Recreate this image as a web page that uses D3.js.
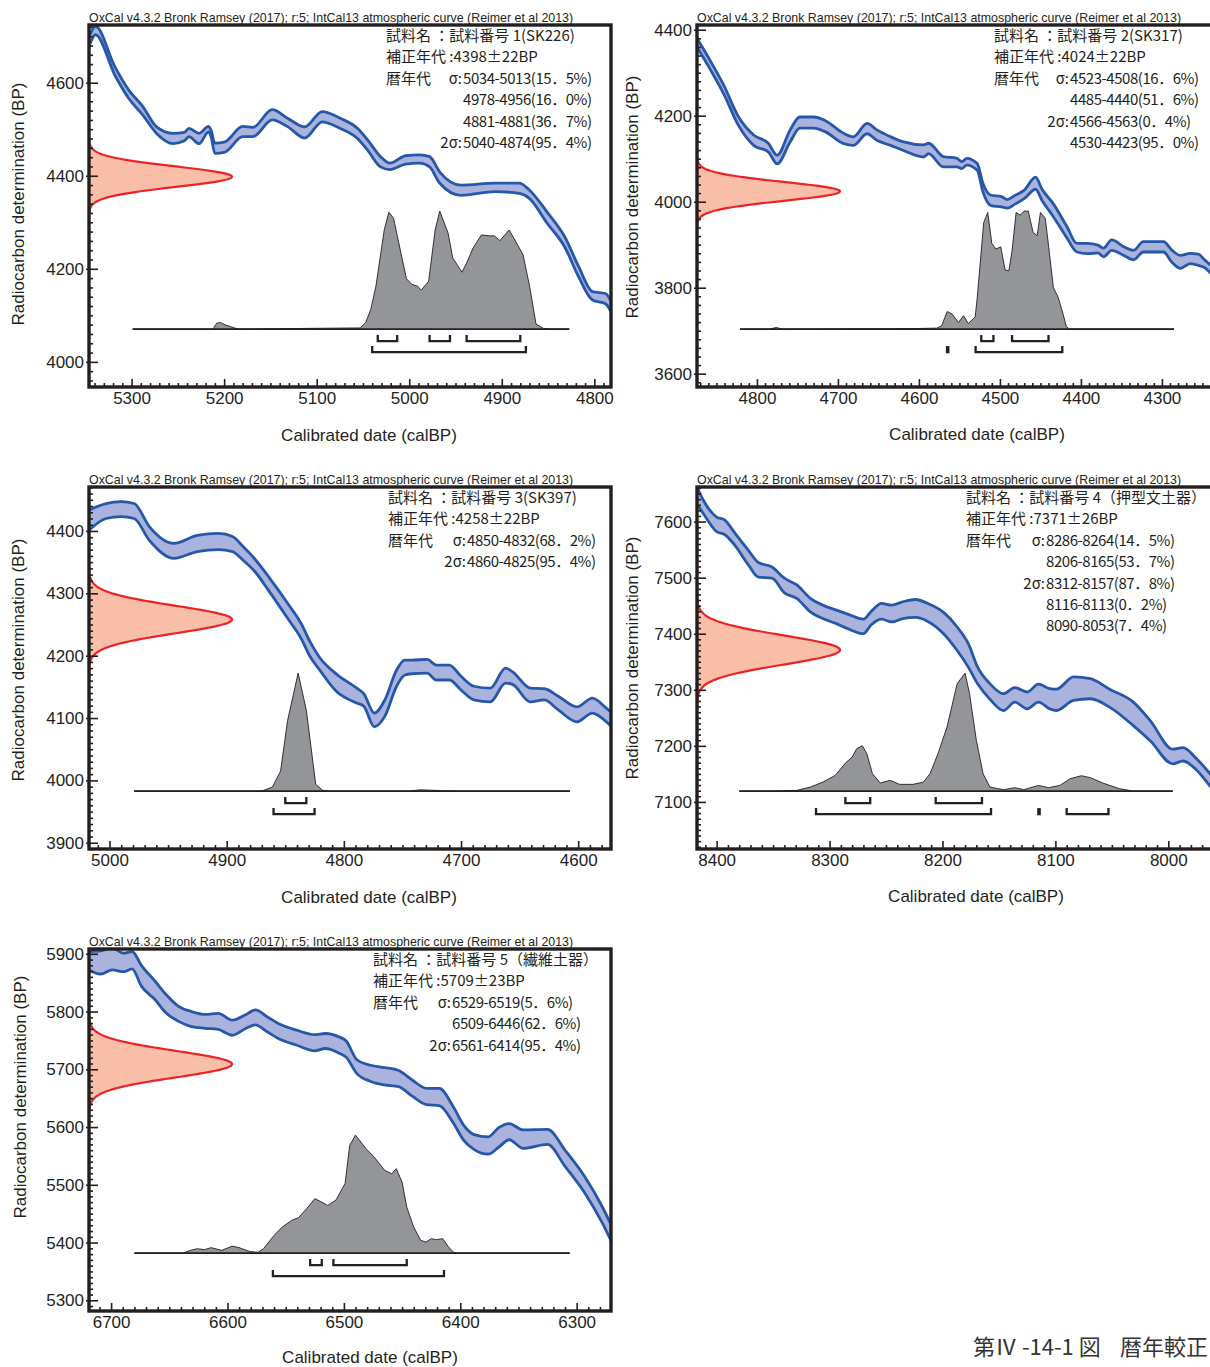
<!DOCTYPE html>
<html>
<head>
<meta charset="utf-8">
<script src="https://cdn.jsdelivr.net/npm/d3@7"></script>
<style>
  body { margin: 0; background: #fff; }
  svg { display: block; }
</style>
</head>
<body>
<svg id="chart" width="1210" height="1367"></svg>
<script>
// ---------- Sample 1 (SK226) ----------
// calibration curve: [calBP, BP, 1-sigma]
const curve1 = [[5345,4693,10],[5339,4712,9],[5318,4625,9],[5303,4575,9],[5288,4540,9],[5273,4498,7],[5255,4480,11],[5243,4484,9],[5238,4493,9],[5227,4480,11],[5217,4500,6],[5214,4490,7],[5210,4459,11],[5199,4462,11],[5180,4495,11],[5169,4494,10],[5148,4531,11],[5131,4514,9],[5113,4493,12],[5094,4527,11],[5075,4513,11],[5056,4491,11],[5045,4466,11],[5031,4430,11],[5021,4420,7],[5004,4434,9],[4989,4436,9],[4978,4430,11],[4967,4396,12],[4944,4369,11],[4907,4375,9],[4881,4373,11],[4870,4360,9],[4851,4310,12],[4832,4258,11],[4817,4194,11],[4802,4142,9],[4788,4136,11],[4781,4115,11]];
// calibrated probability: [calBP, relative %]
const post1 = [[5298,0],[5212,0],[5208,5],[5204,5.6],[5199,3.6],[5189,1],[5184,0],[5053,1],[5047,5.6],[5041.5,16.8],[5036,36.4],[5027,84],[5022,99],[5017,94],[5012,75.6],[5003,42.6],[4997,37.8],[4991,36.4],[4987,33],[4979,40.6],[4972,84],[4967,100],[4958,81.3],[4953,60.3],[4943,48.2],[4938,56],[4931,68.7],[4922,79.8],[4913,79],[4908,79],[4902,75],[4892,84],[4884,72.9],[4877,63],[4870,36.4],[4863,4.2],[4855,0.6],[4848,0],[4827,0]];
const span1 = [5299, 4827];
const date1 = [4398, 22];
const oneSigma1 = [[5034,5013],[4978,4956],[4938,4880]];
const twoSigma1 = [[5040,4874]];
const xTicks1 = [5300,5200,5100,5000,4900,4800];
const yTicks1 = [4000,4200,4400,4600];
const name1 = "試料番号 1(SK226)";
const rows1 = [["σ","5034-5013(15．5%)"],["","4978-4956(16．0%)"],["","4881-4881(36．7%)"],["2σ","5040-4874(95．4%)"]];

// ---------- Sample 2 (SK317) ----------
const curve2 = [[4874,4370,10],[4858,4319,10],[4841,4261,10],[4823,4188,10],[4804,4143,12],[4786,4126,10],[4775,4098,10],[4759,4153,14],[4747,4184,13],[4730,4184,13],[4716,4176,13],[4693,4147,12],[4681,4141,10],[4664,4170,12],[4652,4155,12],[4635,4141,10],[4619,4129,10],[4594,4118,14],[4588,4124,12],[4570,4093,12],[4553,4091,10],[4547,4085,8],[4541,4093,8],[4528,4081,8],[4521,4033,10],[4511,4003,12],[4498,4000,12],[4491,3995,10],[4481,4005,10],[4470,4017,10],[4456,4043,14],[4448,4016,13],[4434,3980,15],[4417,3928,13],[4405,3893,10],[4392,3891,12],[4379,3890,9],[4372,3882,10],[4362,3899,12],[4347,3885,10],[4335,3876,11],[4323,3895,12],[4298,3895,12],[4288,3874,14],[4277,3860,15],[4265,3868,12],[4255,3865,13],[4247,3855,9],[4238,3840,10],[4226,3817,12]];
const post2 = [[4821,0],[4784,0],[4776,1.4],[4769,0],[4607,0.4],[4578,0.8],[4572,2.8],[4565,14.9],[4559,12.7],[4551,5.6],[4545,11.3],[4539,4.7],[4530.5,10.4],[4528,26.8],[4520,90.3],[4515,98.8],[4510,72.5],[4505,67.8],[4499,69.7],[4493.5,50],[4489,49.4],[4485,66.4],[4480,98.8],[4475,96.6],[4470,100],[4465,100],[4459,81.9],[4454,79.1],[4450,98.8],[4444,94],[4439,64.9],[4434,35.3],[4428,26.8],[4422,12.7],[4418,2],[4414,0],[4285,0]];
const span2 = [4821, 4285];
const date2 = [4024, 22];
const oneSigma2 = [[4523,4508],[4485,4440]];
const twoSigma2 = [[4566,4563],[4530,4423]];
const xTicks2 = [4800,4700,4600,4500,4400,4300];
const yTicks2 = [3600,3800,4000,4200,4400];
const name2 = "試料番号 2(SK317)";
const rows2 = [["σ","4523-4508(16．6%)"],["","4485-4440(51．6%)"],["2σ","4566-4563(0．4%)"],["","4530-4423(95．0%)"]];

// ---------- Sample 3 (SK397) ----------
const curve3 = [[5017,4418,16],[5003,4432,12],[4990,4435,12],[4979,4432,12],[4966,4396,11],[4945,4368,12],[4925,4380,13],[4907,4383,13],[4895,4379,12],[4886,4364,11],[4876,4345,10],[4864,4315,11],[4848,4272,12],[4836,4238,12],[4829,4211,12],[4821,4188,10],[4806,4156,14],[4789,4136,12],[4783,4129,10],[4774,4097,11],[4765,4116,13],[4755,4164,13],[4748,4181,12],[4742,4182,11],[4729,4183,11],[4721,4173,12],[4710,4173,12],[4700,4156,11],[4689,4140,11],[4675,4137,11],[4662,4168,12],[4656,4164,10],[4641,4137,11],[4629,4138,9],[4617,4124,11],[4601,4106,12],[4588,4120,12],[4576,4105,11],[4569,4093,12]];
const post3 = [[4979,0],[4873,0],[4869,0.4],[4861,3.4],[4854,16.9],[4848,59.9],[4839,100],[4832,68.4],[4824,5.7],[4818,0.6],[4812,0],[4744,0],[4735,1.1],[4725,0.7],[4714,0.3],[4701,0],[4607,0]];
const span3 = [4979, 4607];
const date3 = [4258, 22];
const oneSigma3 = [[4850,4832]];
const twoSigma3 = [[4860,4825]];
const xTicks3 = [5000,4900,4800,4700,4600];
const yTicks3 = [3900,4000,4100,4200,4300,4400];
const name3 = "試料番号 3(SK397)";
const rows3 = [["σ","4850-4832(68．2%)"],["2σ","4860-4825(95．4%)"]];

// ---------- Sample 4 (押型文土器) ----------
const curve4 = [[8417,7645,15],[8412,7627,12],[8400,7595,13],[8393,7590,13],[8384,7569,11],[8372,7536,13],[8363,7514,13],[8351,7509,10],[8340,7486,13],[8329,7475,12],[8317,7451,12],[8306,7439,12],[8294,7430,12],[8284,7422,13],[8270,7413,13],[8263,7428,12],[8254,7440,14],[8245,7436,15],[8235,7442,15],[8224,7445,16],[8213,7438,16],[8199,7419,19],[8187,7391,21],[8177,7361,21],[8169,7326,15],[8158,7297,14],[8146,7278,15],[8136,7291,13],[8125,7281,15],[8115,7294,16],[8105,7284,18],[8099,7282,19],[8084,7302,21],[8069,7302,18],[8052,7285,16],[8031,7257,21],[8016,7227,18],[7996,7181,13],[7987,7185,12],[7975,7167,10],[7963,7139,11],[7954,7116,11]];
const post4 = [[8380,0],[8353,0],[8329,0.6],[8317,3.4],[8306,7.6],[8295,13.3],[8286,23.7],[8280,28.8],[8276,35.9],[8271,38.5],[8267,31.7],[8262,14.7],[8255,6.8],[8246.5,9.1],[8238,5.7],[8226,5.7],[8217,7.6],[8211,14.7],[8204,31.7],[8196,54.2],[8187,91],[8180,100],[8176,82.5],[8170,43],[8164,14.7],[8158,3.4],[8146,1.2],[8136,2.9],[8128,1.2],[8115,4.8],[8106,2.9],[8096,4.8],[8087,10.5],[8077,13],[8069,11.4],[8058,6.8],[8043,2],[8031,0],[7996,0]];
const span4 = [8380, 7996];
const date4 = [7371, 26];
const oneSigma4 = [[8286,8264],[8206,8165]];
const twoSigma4 = [[8312,8157],[8116,8113],[8090,8053]];
const xTicks4 = [8400,8300,8200,8100,8000];
const yTicks4 = [7100,7200,7300,7400,7500,7600];
const name4 = "試料番号 4（押型文土器）";
const rows4 = [["σ","8286-8264(14．5%)"],["","8206-8165(53．7%)"],["2σ","8312-8157(87．8%)"],["","8116-8113(0．2%)"],["","8090-8053(7．4%)"]];

// ---------- Sample 5 (繊維土器) ----------
const curve5 = [[6719,5888,16],[6709,5885,20],[6699,5891,19],[6689,5885,16],[6682,5889,15],[6674,5862,18],[6662,5836,16],[6653,5814,16],[6642,5796,13],[6631,5787,13],[6619,5783,12],[6608,5783,14],[6596,5772,13],[6584,5783,12],[6576,5790,13],[6566,5778,13],[6554,5764,13],[6541,5755,13],[6525,5746,14],[6516,5749,13],[6504,5742,14],[6498,5735,14],[6489,5705,12],[6477,5693,14],[6465,5688,15],[6453,5684,14],[6441,5667,14],[6429,5653,14],[6418,5652,15],[6406,5621,14],[6397,5590,13],[6388,5574,13],[6376,5568,15],[6367,5582,17],[6358,5592,14],[6346,5579,16],[6325,5583,13],[6310,5546,14],[6293,5500,14],[6278,5448,14],[6267,5402,14]];
const post5 = [[6680,0],[6638,0],[6632,2.3],[6626,3.7],[6620,2.9],[6614,4.6],[6605,2.3],[6596,5.9],[6590,4.6],[6581,1.4],[6574,0.6],[6569,3.7],[6560,15],[6553,22],[6545,27.7],[6539,30],[6532,37.6],[6525,46.1],[6519,43.2],[6514,40.4],[6507,44.7],[6499,58.8],[6495,91.3],[6490,100],[6481,88.5],[6474,81.4],[6465,70.1],[6459,67.3],[6455,71.5],[6450,60.2],[6446,39],[6440,22],[6434,10.8],[6429.5,9.3],[6425,12.2],[6420.5,11.4],[6415,12.2],[6410,5.1],[6406,0.8],[6403,0],[6306,0]];
const span5 = [6680, 6306];
const date5 = [5709, 23];
const oneSigma5 = [[6529,6519],[6509,6446]];
const twoSigma5 = [[6561,6414]];
const xTicks5 = [6700,6600,6500,6400,6300];
const yTicks5 = [5300,5400,5500,5600,5700,5800,5900];
const name5 = "試料番号 5（繊維土器）";
const rows5 = [["σ","6529-6519(5．6%)"],["","6509-6446(62．6%)"],["2σ","6561-6414(95．4%)"]];

const header = "OxCal v4.3.2 Bronk Ramsey (2017); r:5; IntCal13 atmospheric curve (Reimer et al 2013)";
const xTitle = "Calibrated date (calBP)";
const yTitle = "Radiocarbon determination (BP)";
const figNumber = "第Ⅳ -14-1 図";
const figCaption = "暦年較正";

// ---------- layout ----------
const W = 522, H = 362;
const panels = [
  {left: 89, top: 25, xDom: [5346, 4782], yDom: [3946, 4724], xStep: 10, yStep: 20,
   curve: curve1, post: post1, span: span1, date: date1, s1: oneSigma1, s2: twoSigma1,
   xTicks: xTicks1, yTicks: yTicks1, name: name1, rows: rows1,
   textX: 386, valueX: 463, yTitlePos: [18, 204], xTitlePos: [369, 441]},
  {left: 697, top: 25, xDom: [4874, 4229.5], yDom: [3569, 4411], xStep: 10, yStep: 20,
   curve: curve2, post: post2, span: span2, date: date2, s1: oneSigma2, s2: twoSigma2,
   xTicks: xTicks2, yTicks: yTicks2, name: name2, rows: rows2,
   textX: 994, valueX: 1070, yTitlePos: [632, 197], xTitlePos: [977, 440]},
  {left: 89, top: 487, xDom: [5017.5, 4572], yDom: [3890, 4470.5], xStep: 10, yStep: 10,
   curve: curve3, post: post3, span: span3, date: date3, s1: oneSigma3, s2: twoSigma3,
   xTicks: xTicks3, yTicks: yTicks3, name: name3, rows: rows3,
   textX: 388, valueX: 467, yTitlePos: [18, 660], xTitlePos: [369, 903]},
  {left: 697, top: 487, xDom: [8417.4, 7955.1], yDom: [7016, 7661.7], xStep: 10, yStep: 10,
   curve: curve4, post: post4, span: span4, date: date4, s1: oneSigma4, s2: twoSigma4,
   xTicks: xTicks4, yTicks: yTicks4, name: name4, rows: rows4,
   textX: 966, valueX: 1046, yTitlePos: [632, 658], xTitlePos: [976, 902]},
  {left: 89, top: 949, xDom: [6719, 6270.5], yDom: [5281.5, 5908.3], xStep: 10, yStep: 10,
   curve: curve5, post: post5, span: span5, date: date5, s1: oneSigma5, s2: twoSigma5,
   xTicks: xTicks5, yTicks: yTicks5, name: name5, rows: rows5,
   textX: 373, valueX: 452, yTitlePos: [20, 1097], xTitlePos: [370, 1363]}
];

const INK = "#231f20";
const LAT = "'Liberation Sans', Arial, Helvetica, sans-serif";
const JP = "'Noto Sans CJK JP', 'Noto Sans CJK SC', sans-serif";
const BAND_FILL = "#aab3dd", BAND_LINE = "#2757a8";
const DATE_FILL = "#f9bea8", DATE_LINE = "#eb2227";
const POST_FILL = "#939598";

const svg = d3.select("#chart");
svg.append("rect").attr("width", 1210).attr("height", 1367).attr("fill", "#fff");
const defs = svg.append("defs");

function minorValues(dom, step, majors) {
  const lo = Math.min(dom[0], dom[1]), hi = Math.max(dom[0], dom[1]);
  return d3.range(Math.ceil(lo / step) * step, hi, step).filter(v => !majors.includes(v));
}

panels.forEach((p, i) => {
  const x = d3.scaleLinear().domain(p.xDom).range([p.left, p.left + W]);
  const y = d3.scaleLinear().domain(p.yDom).range([p.top + H, p.top]);
  const g = svg.append("g");

  defs.append("clipPath").attr("id", "plot" + i)
    .append("rect").attr("x", p.left).attr("y", p.top).attr("width", W).attr("height", H);
  const plot = g.append("g").attr("clip-path", `url(#plot${i})`);

  // calibration curve band (±1σ)
  const band = d3.area().curve(d3.curveMonotoneX)
    .x(d => x(d[0])).y0(d => y(d[1] - d[2])).y1(d => y(d[1] + d[2]));
  plot.append("path").datum(p.curve).attr("d", band).attr("fill", BAND_FILL);
  [1, -1].forEach(sgn => {
    const edge = d3.line().curve(d3.curveMonotoneX)
      .x(d => x(d[0])).y(d => y(d[1] + sgn * d[2]));
    plot.append("path").datum(p.curve).attr("d", edge)
      .attr("fill", "none").attr("stroke", BAND_LINE)
      .attr("stroke-width", 2.8).attr("stroke-linejoin", "round");
  });

  // measured radiocarbon date as a normal distribution on the y axis
  const [mu, sd] = p.date;
  const zs = d3.range(-4, 4.0001, 0.05);
  const norm = zs.map(z => [mu + z * sd, Math.exp(-0.5 * z * z)]);
  const wid = d3.scaleLinear().domain([0, 1]).range([p.left, p.left + 143]);
  plot.append("path").datum(norm)
    .attr("d", d3.area().y(d => y(d[0])).x0(p.left).x1(d => wid(d[1])))
    .attr("fill", DATE_FILL);
  plot.append("path").datum(norm)
    .attr("d", d3.line().y(d => y(d[0])).x(d => wid(d[1])))
    .attr("fill", "none").attr("stroke", DATE_LINE).attr("stroke-width", 2.2);

  // calibrated date distribution
  const base = p.top + H * 0.84;
  const ph = d3.scaleLinear().domain([0, 100]).range([base, base - 118]);
  plot.append("path").datum(p.post)
    .attr("d", d3.area().x(d => x(d[0])).y0(base).y1(d => ph(d[1])))
    .attr("fill", POST_FILL);
  plot.append("path").datum(p.post)
    .attr("d", d3.line().x(d => x(d[0])).y(d => ph(d[1])))
    .attr("fill", "none").attr("stroke", INK).attr("stroke-width", 0.9);
  plot.append("line")
    .attr("x1", x(p.span[0])).attr("x2", x(p.span[1]))
    .attr("y1", base).attr("y2", base)
    .attr("stroke", INK).attr("stroke-width", 1.6);

  // 1σ and 2σ range brackets
  const brackets = (ranges, yy) => ranges.forEach(r => {
    const x0 = x(r[0]), x1 = x(r[1]);
    if (x1 - x0 < 4) {
      plot.append("rect").attr("x", (x0 + x1) / 2 - 1.8).attr("y", yy - 6)
        .attr("width", 3.6).attr("height", 7.2).attr("fill", INK);
    } else {
      plot.append("path").attr("d", `M${x0},${yy - 6}V${yy}H${x1}V${yy - 6}`)
        .attr("fill", "none").attr("stroke", INK).attr("stroke-width", 2.3);
    }
  });
  brackets(p.s1, base + 12);
  brackets(p.s2, base + 23);

  // axes
  const styleAxis = a => {
    a.select(".domain").remove();
    a.selectAll("line").attr("stroke", INK).attr("stroke-width", 1.6);
    a.selectAll("text").attr("fill", INK).attr("font-family", LAT).attr("font-size", 17);
  };
  g.append("g").attr("transform", `translate(0,${p.top + H})`)
    .call(d3.axisBottom(x).tickValues(minorValues(p.xDom, p.xStep, p.xTicks)).tickSize(-4).tickFormat(""))
    .call(styleAxis);
  g.append("g").attr("transform", `translate(0,${p.top + H})`)
    .call(d3.axisBottom(x).tickValues(p.xTicks).tickSize(-8).tickPadding(5).tickFormat(d3.format("d")))
    .call(styleAxis);
  g.append("g").attr("transform", `translate(${p.left},0)`)
    .call(d3.axisLeft(y).tickValues(minorValues(p.yDom, p.yStep, p.yTicks)).tickSize(-4).tickFormat(""))
    .call(styleAxis);
  const ya = g.append("g").attr("transform", `translate(${p.left},0)`)
    .call(d3.axisLeft(y).tickValues(p.yTicks).tickSize(-9).tickPadding(5).tickFormat(d3.format("d")))
    .call(styleAxis);
  ya.selectAll(".tick").append("line").attr("x1", -3).attr("x2", 0)
    .attr("stroke", INK).attr("stroke-width", 1.6);

  // frame
  g.append("rect").attr("x", p.left).attr("y", p.top).attr("width", W).attr("height", H)
    .attr("fill", "none").attr("stroke", INK).attr("stroke-width", 3.4);

  // titles
  g.append("text").attr("x", p.left).attr("y", p.top - 3)
    .attr("font-family", LAT).attr("font-size", 12.4).attr("fill", INK).text(header);
  g.append("text").attr("x", p.xTitlePos[0]).attr("y", p.xTitlePos[1])
    .attr("text-anchor", "middle").attr("font-family", LAT).attr("font-size", 17)
    .attr("fill", INK).text(xTitle);
  g.append("text")
    .attr("transform", `translate(${p.yTitlePos[0]},${p.yTitlePos[1]}) rotate(-90)`)
    .attr("text-anchor", "middle").attr("dy", "0.35em")
    .attr("font-family", LAT).attr("font-size", 17).attr("fill", INK).text(yTitle);

  // sample annotation
  const ann = g.append("g").attr("font-family", JP).attr("font-size", 15).attr("fill", INK);
  const rowY = k => p.top + 16 + 21.4 * k;
  ann.append("text").attr("x", p.textX).attr("y", rowY(0)).text("試料名 ：" + p.name);
  ann.append("text").attr("x", p.textX).attr("y", rowY(1)).text(`補正年代 :${p.date[0]}±${p.date[1]}BP`);
  ann.append("text").attr("x", p.textX).attr("y", rowY(2)).text("暦年代");
  p.rows.forEach((r, k) => {
    if (r[0]) {
      ann.append("text").attr("x", p.valueX - 1).attr("y", rowY(2 + k))
        .attr("text-anchor", "end").text(r[0] + ":");
    }
    ann.append("text").attr("x", p.valueX).attr("y", rowY(2 + k))
      .attr("letter-spacing", -0.45).text(r[1]);
  });
});

// figure caption, right-aligned to the page edge
const cap = svg.append("g").attr("font-family", JP).attr("font-size", 22).attr("fill", "#333");
cap.append("text").attr("x", 973).attr("y", 1355).text(figNumber);
cap.append("text").attr("x", 1208).attr("y", 1355).attr("text-anchor", "end").text(figCaption);
</script>
</body>
</html>
